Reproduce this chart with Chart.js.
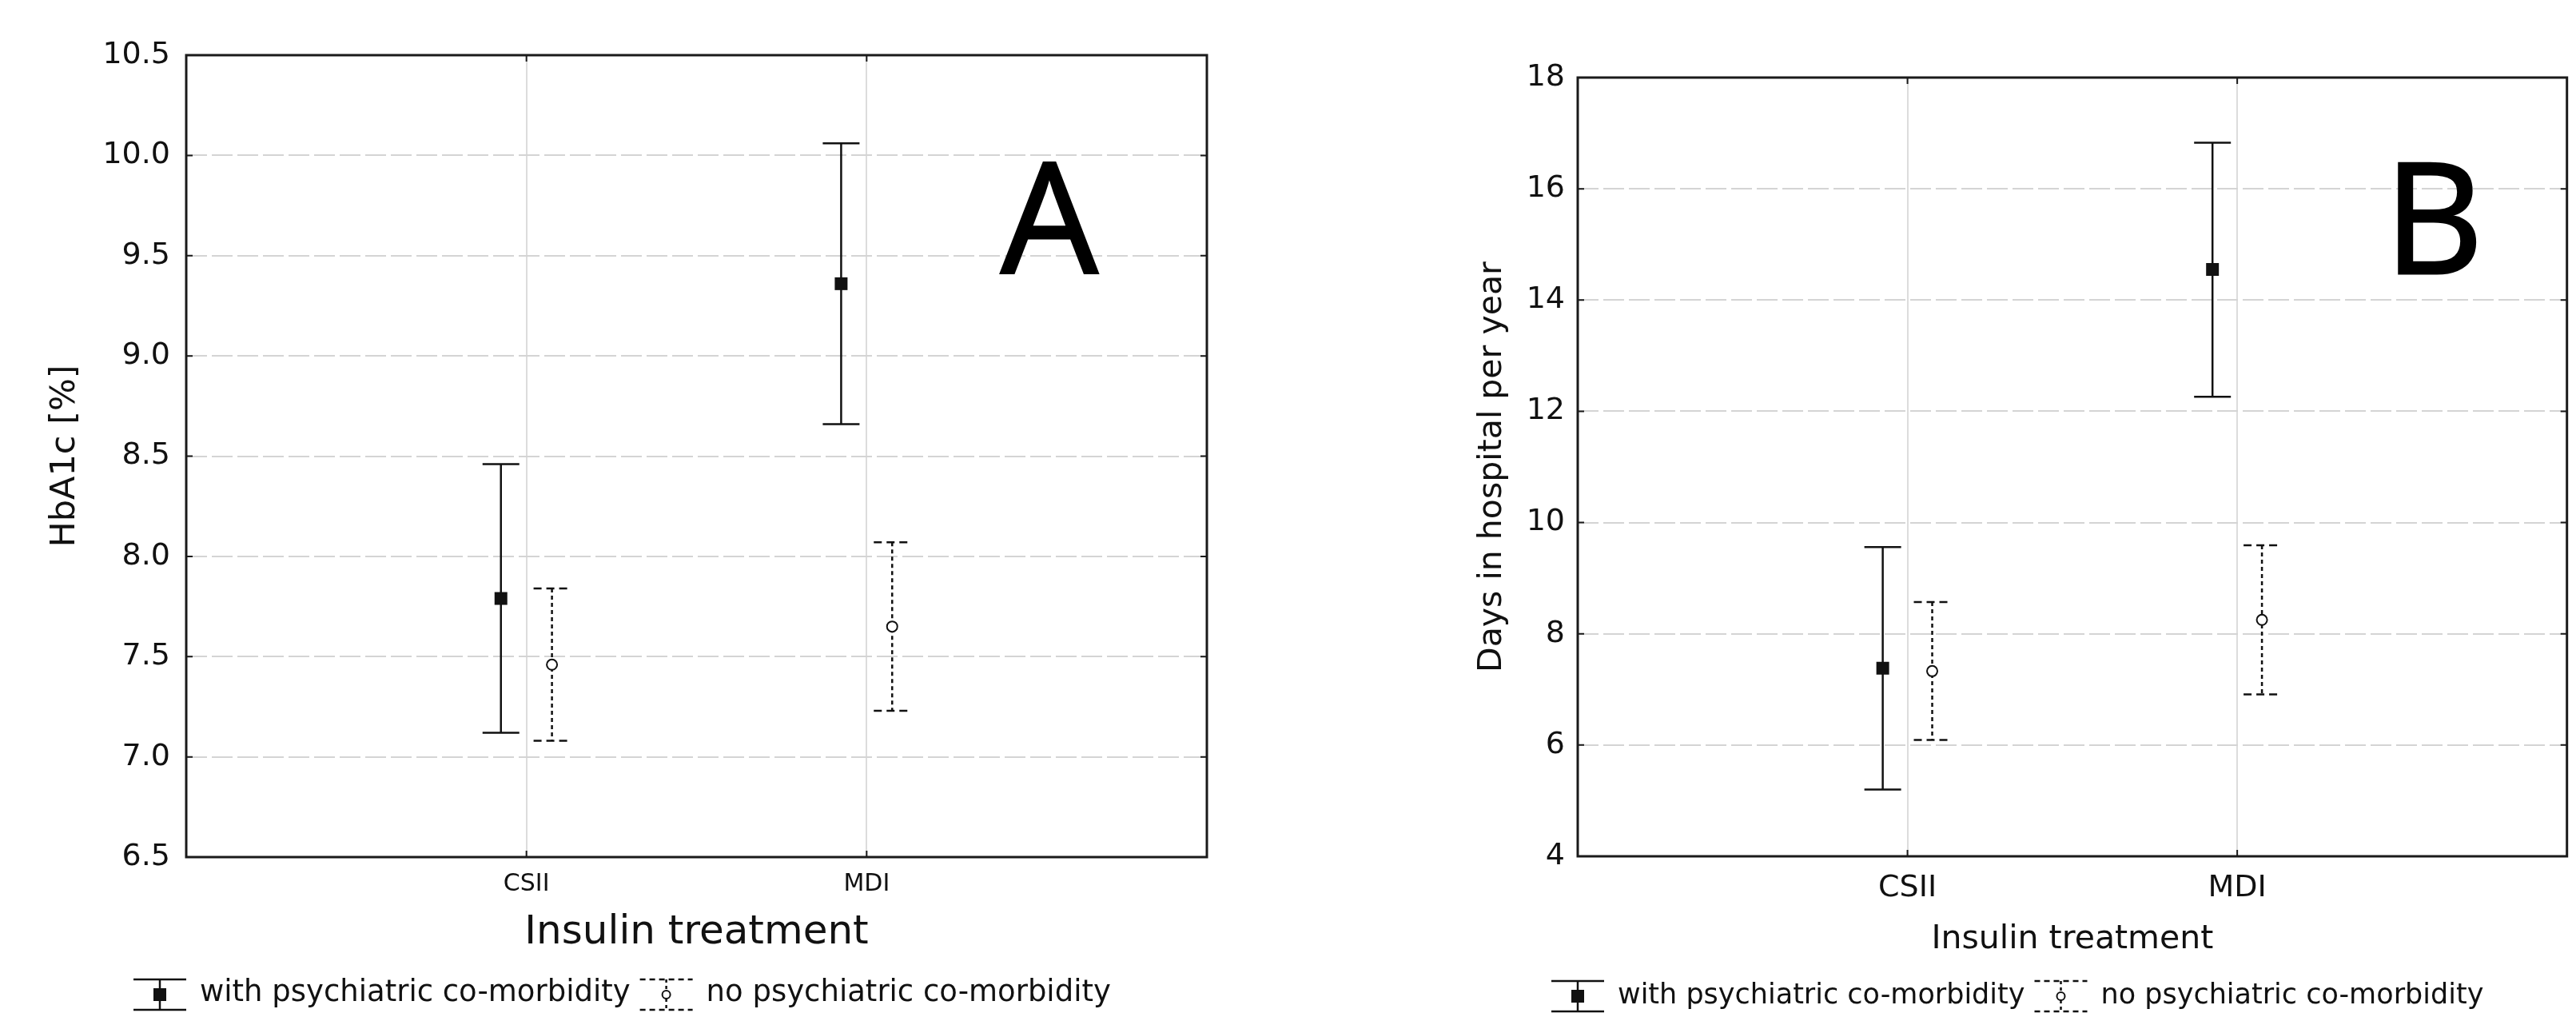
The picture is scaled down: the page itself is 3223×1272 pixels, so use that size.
<!DOCTYPE html>
<html>
<head>
<meta charset="utf-8">
<title>HbA1c and hospital days by insulin treatment</title>
<script src="https://cdn.jsdelivr.net/npm/chart.js@4.4.1/dist/chart.umd.min.js"></script>
<style>
  html, body { margin: 0; padding: 0; background: #fff; }
  body { width: 3223px; height: 1272px; position: relative; overflow: hidden; }
  canvas { position: absolute; top: 0; }
  #chartA { left: 0; }
  #chartB { left: 1620px; }
</style>
</head>
<body>
<canvas id="chartA" width="1620" height="1272"></canvas>
<canvas id="chartB" width="1603" height="1272"></canvas>
<script>
const FONT = '"DejaVu Sans", "Liberation Sans", sans-serif';
const INK = '#111111';

const categories = ['CSII', 'MDI'];
const seriesNames = ['with psychiatric co-morbidity', 'no psychiatric co-morbidity'];

// panel A - HbA1c [%]: mean and interval ends
const hba1cWithMean = [7.79, 9.36];
const hba1cWithLow = [7.12, 8.66];
const hba1cWithHigh = [8.46, 10.06];
const hba1cNoMean = [7.46, 7.65];
const hba1cNoLow = [7.08, 7.23];
const hba1cNoHigh = [7.84, 8.07];
const hba1cTicks = [6.5, 7.0, 7.5, 8.0, 8.5, 9.0, 9.5, 10.0, 10.5];

// panel B - days in hospital per year
const daysWithMean = [7.38, 14.55];
const daysWithLow = [5.2, 12.26];
const daysWithHigh = [9.56, 16.83];
const daysNoMean = [7.33, 8.25];
const daysNoLow = [6.09, 6.91];
const daysNoHigh = [8.57, 9.59];
const daysTicks = [4, 6, 8, 10, 12, 14, 16, 18];

const SHIFT = 0.075; // the two groups sit either side of the category line

function pts(means, shift) {
  return means.map((m, i) => ({ x: i + 1 + shift, y: m }));
}

// whiskers with caps, drawn under the markers
const errorBars = {
  id: 'errorBars',
  beforeDatasetsDraw(chart) {
    const ctx = chart.ctx;
    const y = chart.scales.y;
    chart.data.datasets.forEach((ds, di) => {
      const meta = chart.getDatasetMeta(di);
      ctx.save();
      ctx.strokeStyle = INK;
      ctx.lineWidth = 2.5;
      meta.data.forEach((pt, i) => {
        const top = y.getPixelForValue(ds.high[i]);
        const bot = y.getPixelForValue(ds.low[i]);
        ctx.setLineDash(ds.dashed ? [5, 4] : []);
        ctx.beginPath();
        ctx.moveTo(pt.x, top);
        ctx.lineTo(pt.x, bot);
        ctx.stroke();
        ctx.setLineDash(ds.dashed ? [10, 6] : []);
        ctx.beginPath();
        ctx.moveTo(pt.x - 23, top); ctx.lineTo(pt.x + 23, top);
        ctx.moveTo(pt.x - 23, bot); ctx.lineTo(pt.x + 23, bot);
        ctx.stroke();
      });
      ctx.restore();
    });
  }
};

// box round the plot + small inward ticks
const frame = {
  id: 'frame',
  beforeDatasetsDraw(chart) {
    const { ctx, chartArea: a, scales } = chart;
    ctx.save();
    ctx.strokeStyle = '#1a1a1a';
    ctx.lineWidth = 3;
    ctx.strokeRect(a.left, a.top, a.right - a.left, a.bottom - a.top);
    ctx.lineWidth = 2;
    ctx.beginPath();
    scales.y.ticks.forEach(t => {
      const py = scales.y.getPixelForValue(t.value);
      ctx.moveTo(a.left, py); ctx.lineTo(a.left + 8, py);
      ctx.moveTo(a.right, py); ctx.lineTo(a.right - 8, py);
    });
    scales.x.ticks.forEach(t => {
      const px = scales.x.getPixelForValue(t.value);
      ctx.moveTo(px, a.bottom); ctx.lineTo(px, a.bottom - 8);
      ctx.moveTo(px, a.top); ctx.lineTo(px, a.top + 8);
    });
    ctx.stroke();
    ctx.restore();
  }
};

function drawIcon(ctx, x, cy, dashed) {
  const w = 66, h = 19;
  const mid = x + w / 2;
  ctx.save();
  ctx.strokeStyle = INK;
  ctx.lineWidth = 2.5;
  ctx.setLineDash(dashed ? [7, 5] : []);
  ctx.beginPath();
  ctx.moveTo(x, cy - h); ctx.lineTo(x + w, cy - h);
  ctx.moveTo(x, cy + h); ctx.lineTo(x + w, cy + h);
  ctx.stroke();
  ctx.setLineDash(dashed ? [4, 4] : []);
  ctx.beginPath();
  ctx.moveTo(mid, cy - h); ctx.lineTo(mid, cy + h);
  ctx.stroke();
  ctx.setLineDash([]);
  if (dashed) {
    ctx.fillStyle = '#fff';
    ctx.lineWidth = 2;
    ctx.beginPath();
    ctx.arc(mid, cy, 5, 0, Math.PI * 2);
    ctx.fill();
    ctx.stroke();
  } else {
    ctx.fillStyle = INK;
    ctx.fillRect(mid - 8, cy - 8, 16, 16);
  }
  ctx.restore();
}

// panel letter and the legend row under the axis title
const decor = {
  id: 'decor',
  afterDraw(chart, args, o) {
    const ctx = chart.ctx;
    ctx.save();
    ctx.fillStyle = '#000';
    ctx.strokeStyle = '#000';
    ctx.lineWidth = 3;
    ctx.font = '192px "Open Sans", "Noto Sans", sans-serif';
    ctx.textAlign = 'center';
    ctx.textBaseline = 'alphabetic';
    ctx.fillText(o.letter, o.letterX, o.letterY);
    ctx.strokeText(o.letter, o.letterX, o.letterY); // heavier stroke like the original

    ctx.font = o.legendSize + 'px ' + FONT;
    ctx.textAlign = 'left';
    let x = o.legendX;
    seriesNames.forEach((name, i) => {
      drawIcon(ctx, x, o.iconY, i === 1);
      x += 66 + o.iconGap;
      ctx.fillStyle = INK;
      ctx.fillText(name, x, o.textY);
      x += ctx.measureText(name).width + 12;
    });
    ctx.restore();
  }
};

function makeChart(id, s) {
  return new Chart(document.getElementById(id), {
    type: 'scatter',
    data: {
      datasets: [
        {
          label: seriesNames[0],
          data: pts(s.withMean, -SHIFT),
          low: s.withLow, high: s.withHigh, dashed: false,
          pointStyle: 'rect', radius: 11.3,
          backgroundColor: INK, borderColor: INK, borderWidth: 0
        },
        {
          label: seriesNames[1],
          data: pts(s.noMean, SHIFT),
          low: s.noLow, high: s.noHigh, dashed: true,
          pointStyle: 'circle', radius: 6.5,
          backgroundColor: '#fff', borderColor: INK, borderWidth: 2
        }
      ]
    },
    options: {
      responsive: false,
      animation: false,
      devicePixelRatio: 1,
      layout: { padding: { top: s.top, right: s.right, left: 0, bottom: 0 } },
      plugins: {
        legend: { display: false },
        tooltip: { enabled: false },
        decor: s.decor
      },
      scales: {
        x: {
          type: 'linear',
          min: 0, max: 3,
          afterBuildTicks: sc => { sc.ticks = categories.map((c, i) => ({ value: i + 1 })); },
          afterFit: sc => { sc.height = s.xHeight; },
          ticks: {
            autoSkip: false,
            padding: s.xTickPad,
            color: INK,
            font: { family: FONT, size: s.xTickSize },
            callback: (v, i) => categories[i]
          },
          grid: { color: '#dcdcdc', lineWidth: 2, drawTicks: false },
          border: { display: false },
          title: {
            display: true,
            text: 'Insulin treatment',
            color: INK,
            font: { family: FONT, size: s.xTitleSize },
            padding: { top: 0, bottom: s.xTitlePad }
          }
        },
        y: {
          min: s.ticks[0], max: s.ticks[s.ticks.length - 1],
          afterBuildTicks: sc => { sc.ticks = s.ticks.map(v => ({ value: v })); },
          afterFit: sc => { sc.width = s.yWidth; },
          ticks: {
            padding: s.yTickPad,
            color: INK,
            font: { family: FONT, size: s.yTickSize },
            callback: v => s.fmt(v)
          },
          grid: { color: '#d4d4d4', lineWidth: 2, drawTicks: false },
          border: { display: false, dash: [26, 6] },
          title: {
            display: true,
            text: s.yTitle,
            color: INK,
            font: { family: FONT, size: s.yTitleSize },
            padding: { top: s.yTitlePad, bottom: 0 }
          }
        }
      }
    },
    plugins: [errorBars, frame, decor]
  });
}

makeChart('chartA', {
  withMean: hba1cWithMean, withLow: hba1cWithLow, withHigh: hba1cWithHigh,
  noMean: hba1cNoMean, noLow: hba1cNoLow, noHigh: hba1cNoHigh,
  ticks: hba1cTicks, fmt: v => v.toFixed(1),
  top: 69, right: 110, yWidth: 233, xHeight: 200,
  yTickSize: 38, yTickPad: 20,
  yTitle: 'HbA1c [%]', yTitleSize: 43, yTitlePad: 56,
  xTickSize: 30, xTickPad: 16,
  xTitleSize: 50, xTitlePad: 75,
  decor: { letter: 'A', letterX: 1313, letterY: 342,
           legendX: 167, legendSize: 37, iconGap: 17, iconY: 1244, textY: 1252 }
});

makeChart('chartB', {
  withMean: daysWithMean, withLow: daysWithLow, withHigh: daysWithHigh,
  noMean: daysNoMean, noLow: daysNoLow, noHigh: daysNoHigh,
  ticks: daysTicks, fmt: v => String(v),
  top: 97, right: 10, yWidth: 354, xHeight: 201,
  yTickSize: 38, yTickPad: 16,
  yTitle: 'Days in hospital per year', yTitleSize: 41, yTitlePad: 223,
  xTickSize: 38, xTickPad: 17,
  xTitleSize: 41, xTitlePad: 72,
  decor: { letter: 'B', letterX: 1425, letterY: 342,
           legendX: 321, legendSize: 35, iconGap: 17, iconY: 1246, textY: 1255 }
});
</script>
</body>
</html>
